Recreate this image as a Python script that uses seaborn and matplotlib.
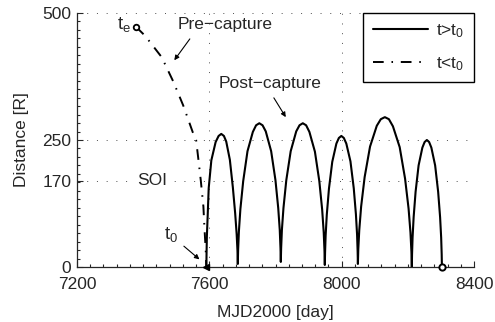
import matplotlib
matplotlib.use("Agg")
import matplotlib.pyplot as plt
from matplotlib.ticker import MultipleLocator
import seaborn as sns
import pandas as pd

# pre-capture branch (t < t0)
pre_t = [7378, 7406, 7456, 7491, 7521, 7550, 7560, 7567, 7574, 7582, 7585, 7589, 7590.5, 7591]
pre_r = [473, 455, 413, 365, 318, 265, 250, 211, 171, 119, 79, 34, 6, 0]

# post-capture orbit (t > t0), six loops
post_t = [7591, 7591.5, 7592.5, 7595, 7598, 7606, 7619, 7628, 7636,
          7644, 7651, 7662, 7671, 7678, 7682.5, 7685, 7686,
          7687, 7689.3, 7693.8, 7702.3, 7715.3, 7731.5, 7741.3, 7751,
          7760.8, 7770.5, 7786.8, 7799.8, 7808.2, 7812.8, 7815, 7816,
          7817, 7819.3, 7824, 7832.6, 7845.9, 7862.6, 7872.5, 7882.5,
          7892.5, 7902.4, 7919.1, 7932.4, 7941, 7945.7, 7948, 7949,
          7949.8, 7951.5, 7955, 7961.5, 7971.5, 7984, 7991.5, 7999,
          8006.5, 8014, 8026.5, 8036.5, 8043, 8046.5, 8048.2, 8049,
          8050.2, 8053.1, 8058.8, 8069.4, 8085.7, 8106.1, 8118.3, 8130.5,
          8142.7, 8154.9, 8175.3, 8191.6, 8202.2, 8207.9, 8210.8, 8212,
          8212.7, 8214.3, 8217.5, 8223.4, 8232.5, 8243.9, 8250.7, 8257.5,
          8264.3, 8271.1, 8282.5, 8291.6, 8297.5, 8300.7, 8302.3, 8303]
post_r = [0, 26, 60, 102, 155, 210, 246, 258, 262,
          258, 247, 211, 157, 106, 65, 32, 6,
          34, 70, 114, 169, 228, 266, 279, 283,
          279, 267, 228, 171, 116, 73, 37, 10,
          37, 73, 116, 171, 228, 267, 279, 283,
          279, 266, 227, 169, 113, 68, 32, 4,
          29, 62, 103, 154, 207, 243, 254, 258,
          254, 243, 208, 155, 104, 64, 31, 6,
          35, 72, 119, 177, 237, 278, 291, 295,
          291, 277, 236, 174, 115, 68, 30, 0,
          25, 58, 98, 148, 200, 235, 246, 250,
          246, 235, 200, 148, 98, 58, 25, 0]

t_e, r_e = 7378, 473
t_0, r_0 = 7590, 0
t_end, r_end = 8303, 0

x_ticks = [7200, 7600, 8000, 8400]
y_ticks = [0, 170, 250, 500]

sns.set_style("ticks")
plt.rcParams["font.family"] = ["Liberation Sans", "DejaVu Sans"]
plt.rcParams["mathtext.fontset"] = "custom"
plt.rcParams["mathtext.rm"] = "Liberation Sans"
plt.rcParams["mathtext.it"] = "Liberation Sans:italic"
fs = 12.5
plt.rcParams["font.size"] = fs

post = pd.DataFrame({"t": post_t, "r": post_r})
pre = pd.DataFrame({"t": pre_t, "r": pre_r})

fig = plt.figure(figsize=(4.95, 3.22), dpi=100)
ax = fig.add_axes([0.1556, 0.1708, 0.802, 0.7888])

sns.lineplot(data=post, x="t", y="r", sort=False, estimator=None, color="k",
             lw=1.5, label=r"t>t$_0$", ax=ax)
sns.lineplot(data=pre, x="t", y="r", sort=False, estimator=None, color="k",
             lw=1.4, label=r"t<t$_0$", ax=ax)
ax.lines[1].set_linestyle((0, (5.5, 4.0, 0.8, 4.0)))

ax.plot([t_e], [r_e], "o", mfc="white", mec="k", ms=4, mew=1.3, zorder=5, clip_on=False)
ax.plot([t_end], [r_end], "o", mfc="white", mec="k", ms=4.5, mew=1.4, zorder=5, clip_on=False)
ax.plot([t_0], [r_0], "<", color="k", ms=5, zorder=5, clip_on=False)

ax.set_xlim(7200, 8400)
ax.set_ylim(0, 500)
ax.set_xticks(x_ticks)
ax.set_yticks(y_ticks)
ax.xaxis.set_minor_locator(MultipleLocator(40))
ax.yaxis.set_minor_locator(MultipleLocator(50 / 3))
ax.tick_params(which="both", direction="in", top=False, right=False, width=0.8, labelsize=fs)
ax.tick_params(which="major", length=4)
ax.tick_params(which="minor", length=2)
ax.tick_params(axis="x", pad=7)
ax.tick_params(axis="y", pad=4)
ax.grid(True, which="major", ls=(0, (1, 9)), color="0.3", lw=0.7)
ax.spines["top"].set_visible(False)
ax.spines["right"].set_visible(False)
for s in ["left", "bottom"]:
    ax.spines[s].set_linewidth(0.9)

ax.set_xlabel("MJD2000 [day]", fontsize=fs, labelpad=9.5)
ax.set_ylabel("Distance [R]", fontsize=fs, labelpad=10)

# annotations
ax.text(7322, 477, r"t$_\mathrm{e}$", ha="left", va="center", fontsize=13.5)
ax.text(7505, 468, "Pre\u2212capture", ha="left", va="baseline", fontsize=fs)
ax.annotate("", xy=(7494, 407), xytext=(7541, 449),
            arrowprops=dict(arrowstyle="-|>", lw=0.8, color="k", mutation_scale=7,
                            shrinkA=0, shrinkB=0))
ax.text(7629, 352, "Post\u2212capture", ha="left", va="baseline", fontsize=fs)
ax.annotate("", xy=(7831, 295), xytext=(7795, 333),
            arrowprops=dict(arrowstyle="-|>", lw=0.8, color="k", mutation_scale=7,
                            shrinkA=0, shrinkB=0))
ax.text(7427, 170, "SOI", ha="center", va="center", fontsize=fs,
        bbox=dict(facecolor="white", edgecolor="none", pad=1.5))
ax.text(7464, 63, r"t$_0$", ha="left", va="center", fontsize=13.5)
ax.annotate("", xy=(7570, 15), xytext=(7523, 41),
            arrowprops=dict(arrowstyle="-|>", lw=0.8, color="k", mutation_scale=7,
                            shrinkA=0, shrinkB=0))

leg = ax.legend(loc="upper right", bbox_to_anchor=(1.0, 1.0), borderaxespad=0,
                frameon=True, fancybox=False, framealpha=1, edgecolor="k",
                handlelength=3.2, handletextpad=0.45, labelspacing=0.85,
                borderpad=0.55, fontsize=fs)
leg.get_frame().set_linewidth(1.0)

fig.savefig("out.png", dpi=100)
